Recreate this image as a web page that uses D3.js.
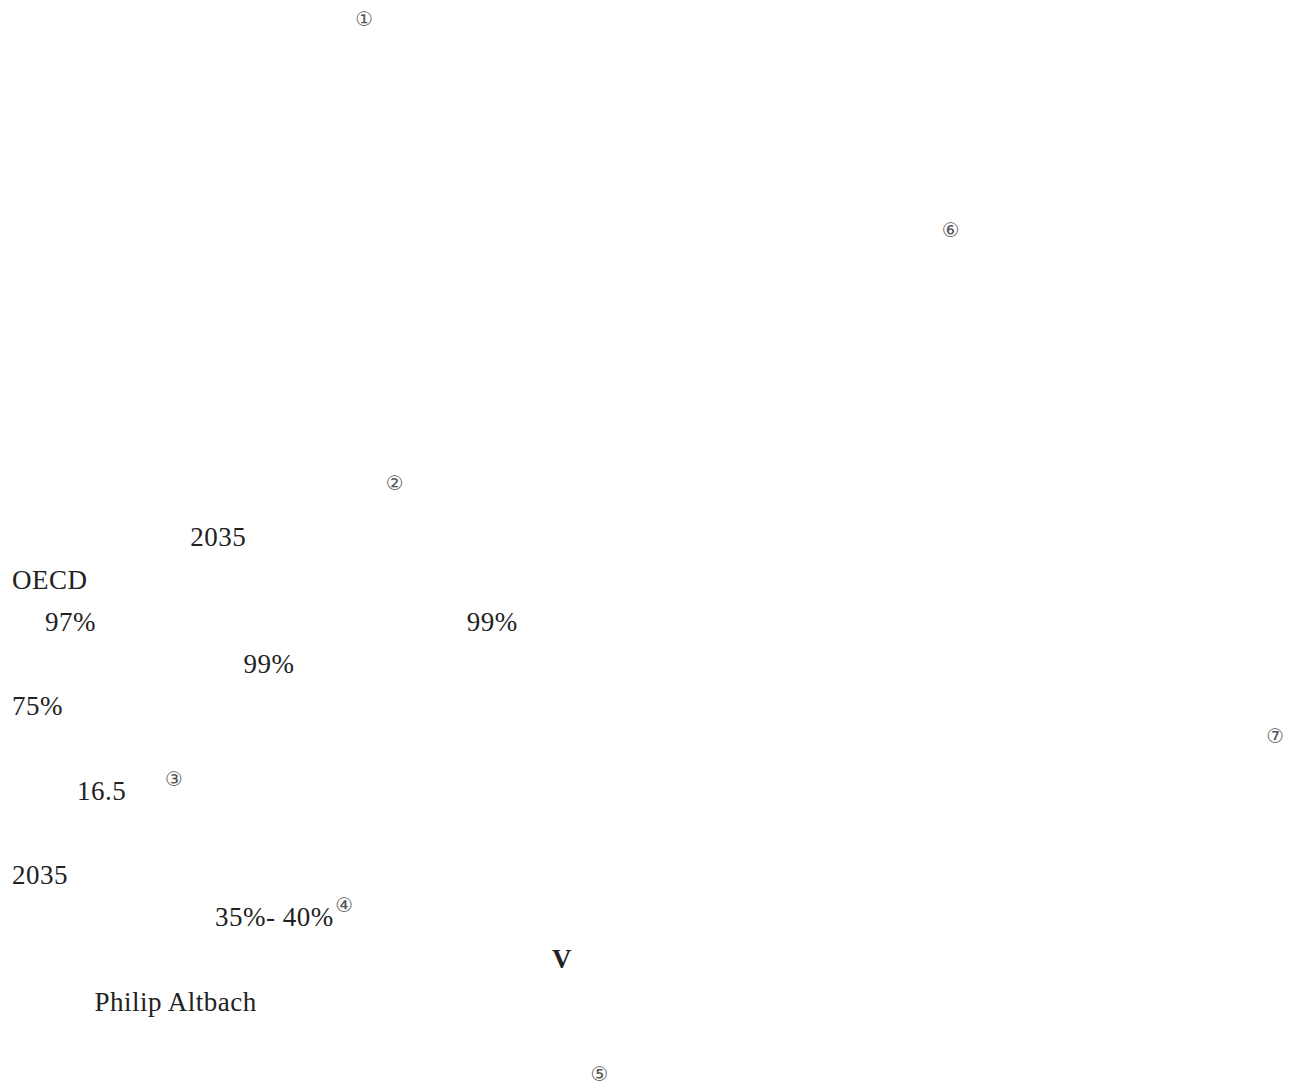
<!DOCTYPE html>
<html>
<head>
<meta charset="utf-8">
<script src="https://cdn.jsdelivr.net/npm/d3@7"></script>
<style>
  body { margin: 0; background: #fff; }
</style>
</head>
<body>
<div id="chart-area"></div>
<script>
var width = 1296, height = 1088;

// visible fragments of the page: text, line number, column (in character cells)
var labels = ["①", "⑥", "②", "2035", "OECD", "97%", "99%", "99%", "75%", "⑦",
              "16.5", "③", "2035", "35%- 40%", "④", "V", "Philip Altbach", "⑤"];
var rows   = [0, 5, 11, 12, 13, 14, 14, 15, 16, 17, 18, 18, 20, 21, 21, 22, 23, 25];
var cols   = [12.9, 34.95, 14.05, 6.7, 0, 1.24, 17.1, 8.7, 0, 47.15,
              2.44, 5.75, 0, 7.63, 12.15, 20.3, 3.1, 21.75];
// note marks are superscripts
var isNote = labels.map(function (t) { return /[①-⑩]/.test(t); });

var svg = d3.select("#chart-area")
  .append("svg")
  .attr("width", width)
  .attr("height", height);

// line baselines and character columns
var y = d3.scaleLinear().domain([0, 25]).range([40, 40 + 25 * 42.2]);
var x = d3.scaleLinear().domain([0, 48]).range([12, 12 + 48 * 26.6]);

svg.selectAll(".frag")
  .data(labels)
  .enter()
  .append("text")
  .attr("class", "frag")
  .attr("x", function (d, i) { return x(cols[i]); })
  .attr("y", function (d, i) { return isNote[i] ? y(rows[i]) - 14 : y(rows[i]); })
  .attr("font-family", function (d, i) { return isNote[i] ? "DejaVu Sans" : "Liberation Serif"; })
  .attr("font-size", function (d, i) { return isNote[i] ? "20px" : "27px"; })
  .attr("letter-spacing", function (d, i) { return isNote[i] ? 0 : 0.5; })
  .attr("font-weight", function (d) { return d == "V" ? "bold" : "normal"; })
  .attr("fill", function (d, i) { return isNote[i] ? "#555" : "#222"; })
  .text(function (d) { return d; });
</script>
</body>
</html>
